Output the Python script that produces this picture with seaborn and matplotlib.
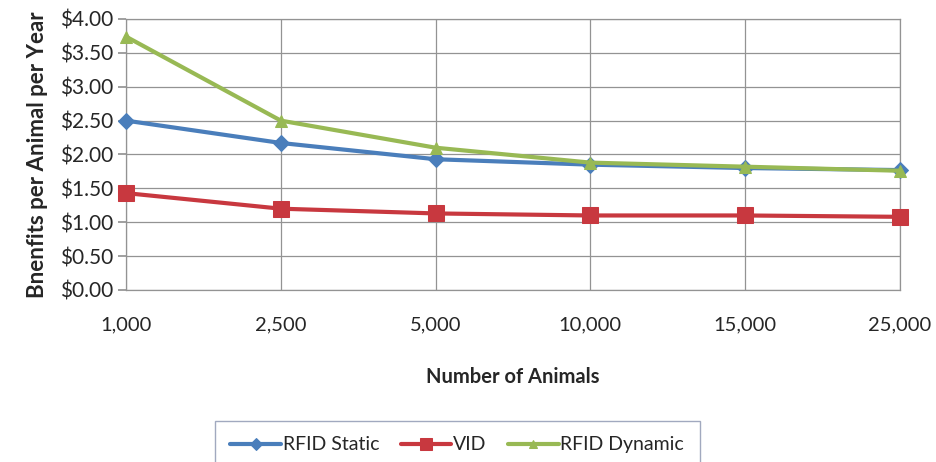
import matplotlib
matplotlib.use("Agg")
import matplotlib.pyplot as plt
import seaborn as sns
import pandas as pd
from matplotlib.ticker import FuncFormatter

animals = ["1,000", "2,500", "5,000", "10,000", "15,000", "25,000"]
rfid_static = [2.50, 2.17, 1.93, 1.85, 1.80, 1.77]
vid = [1.43, 1.20, 1.13, 1.10, 1.10, 1.08]
rfid_dynamic = [3.74, 2.50, 2.10, 1.88, 1.82, 1.76]
series_names = ["RFID Static", "VID", "RFID Dynamic"]

rows = []
for name, vals in zip(series_names, [rfid_static, vid, rfid_dynamic]):
    for i, v in enumerate(vals):
        rows.append({"pos": i, "Number of Animals": animals[i], "value": v, "series": name})
df = pd.DataFrame(rows)

sns.set_theme(style="white")
plt.rcParams["font.family"] = ["Lato", "DejaVu Sans"]

palette = {"RFID Static": "#4A7EBB", "VID": "#C8383F", "RFID Dynamic": "#98B954"}
markers = {"RFID Static": "D", "VID": "s", "RFID Dynamic": "^"}
msizes = {"RFID Static": 8, "VID": 12, "RFID Dynamic": 8}

fig = plt.figure(figsize=(9.37, 4.62), dpi=100)
ax = fig.add_axes([0.1345, 0.3723, 0.826, 0.5866])

for name in series_names:
    sub = df[df["series"] == name]
    sns.lineplot(data=sub, x="pos", y="value", ax=ax, color=palette[name],
                 marker=markers[name], markersize=msizes[name], linewidth=3,
                 markeredgecolor=palette[name], label=name, zorder=3, clip_on=False)

ax.set_xlim(0, 5)
ax.set_ylim(0, 4)
ax.set_xticks(range(len(animals)))
ax.set_xticklabels(animals)
ax.set_yticks([i * 0.5 for i in range(9)])
ax.yaxis.set_major_formatter(FuncFormatter(lambda v, p: f"${v:.2f}"))
ax.grid(True, color="#939393", linewidth=0.9)
for s in ax.spines.values():
    s.set_color("#939393")
    s.set_linewidth(0.9)
ax.tick_params(axis="y", left=True, length=6, color="#939393", labelsize=15, pad=3)
ax.tick_params(axis="x", bottom=False, labelsize=14.5, pad=13)
ax.set_xlabel("Number of Animals", fontsize=14.5, fontweight="bold", labelpad=24)
ax.set_ylabel("Bnenfits per Animal per Year", fontsize=16, fontweight="bold", labelpad=9)

handles, labels = ax.get_legend_handles_labels()
ax.get_legend().remove()
leg = fig.legend(handles, labels, loc="upper center", bbox_to_anchor=(0.488, 0.089),
                 ncol=3, frameon=True, fancybox=False, fontsize=14,
                 handlelength=2.6, columnspacing=1.1, handletextpad=0.1,
                 borderpad=0.8, borderaxespad=0, markerscale=0.75)
leg.get_frame().set_edgecolor("#8a94b0")
leg.get_frame().set_linewidth(1.0)

fig.savefig("out.png", dpi=100)
